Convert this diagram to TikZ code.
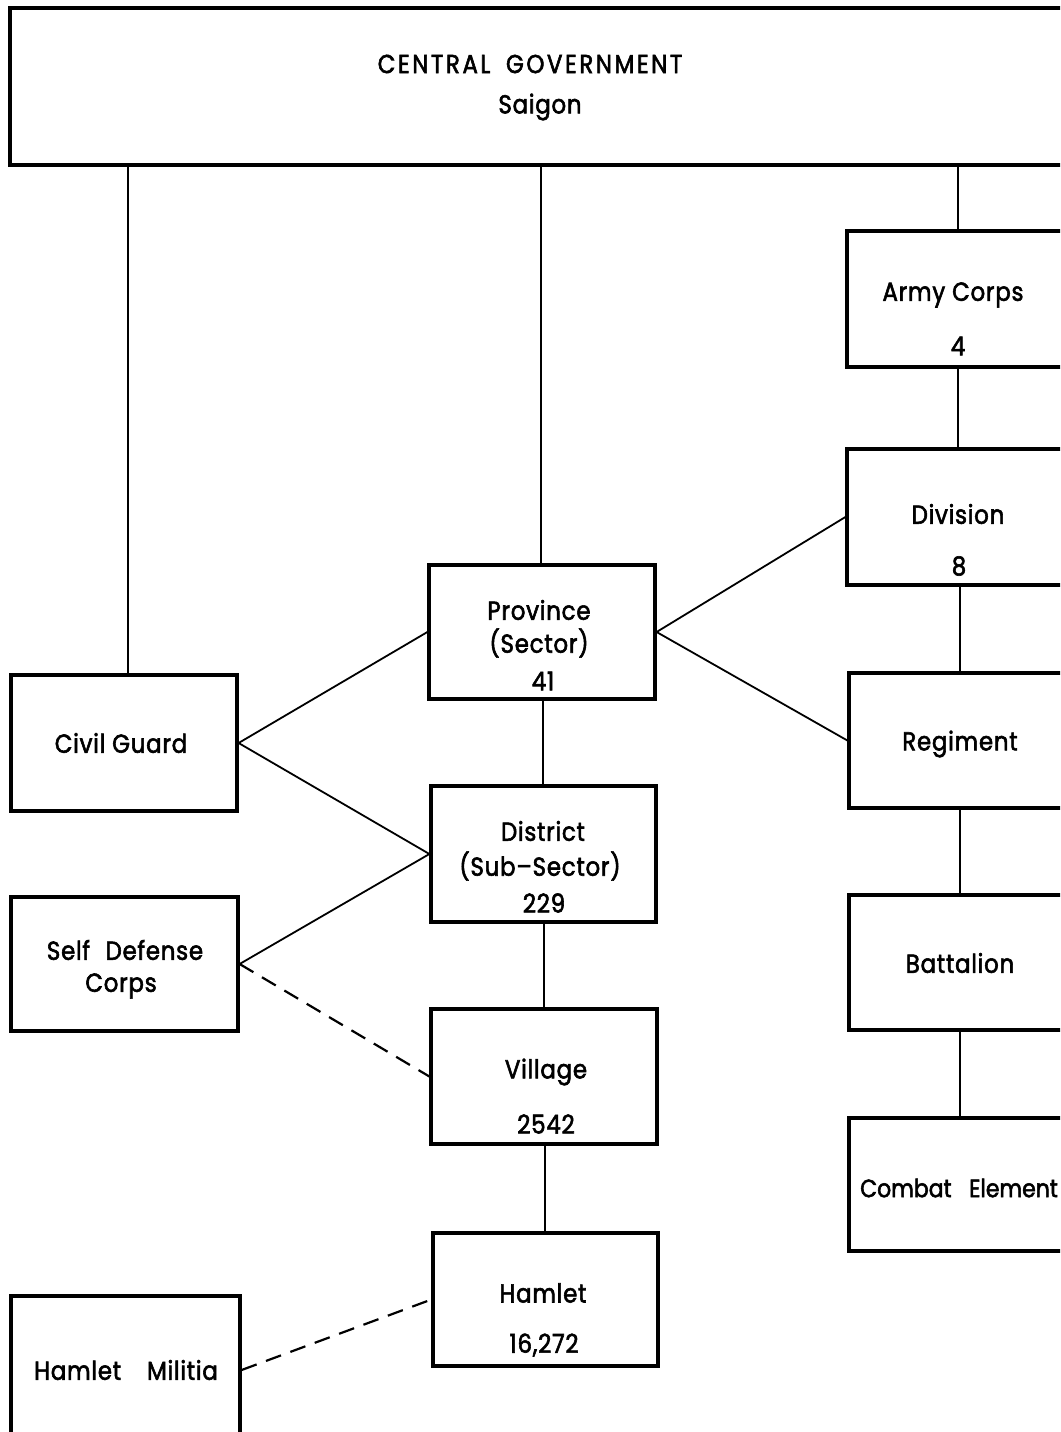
\documentclass[tikz,border=0pt]{standalone}
\usepackage{fontspec}
\setmainfont{Poppins}[LetterSpace=3, FakeBold=2.2, FakeStretch=0.88]
\begin{document}
\begin{tikzpicture}[x=1pt,y=-1pt,
  box/.style={draw, line width=3.2pt, rectangle, inner sep=0pt},
  link/.style={line width=1.8pt},
  dlink/.style={line width=2.2pt, dash pattern=on 16pt off 10pt},
  lbl/.style={inner sep=0pt, font=\fontsize{26}{30}\selectfont}]
\useasboundingbox (0,0) rectangle (1060,1432);
\clip (0,0) rectangle (1060,1432);
% boxes
\node[box, line width=4.5pt, minimum width=1080pt, minimum height=157pt] (cg) at (550,86.5) {};
\node[box, minimum width=228pt, minimum height=136pt] (army) at (961,299) {};
\node[box, minimum width=228pt, minimum height=136pt] (div) at (961,517) {};
\node[box, minimum width=226pt, minimum height=135pt] (reg) at (962,740.5) {};
\node[box, minimum width=226pt, minimum height=135pt] (bat) at (962,962.5) {};
\node[box, minimum width=226pt, minimum height=133pt] (comb) at (962,1184.5) {};
\node[box, minimum width=226pt, minimum height=134pt] (prov) at (542,632) {};
\node[box, minimum width=225pt, minimum height=136pt] (dist) at (543.5,854) {};
\node[box, minimum width=226pt, minimum height=135pt] (vill) at (544,1076.5) {};
\node[box, minimum width=225pt, minimum height=133pt] (ham) at (545.5,1299.5) {};
\node[box, minimum width=226pt, minimum height=136pt] (civ) at (124,743) {};
\node[box, minimum width=227pt, minimum height=134pt] (sdc) at (124.5,964) {};
\node[box, minimum width=229pt, minimum height=148pt] (mil) at (125.5,1370) {};
% labels
\node[lbl, font=\fontsize{26}{30}\selectfont\addfontfeature{LetterSpace=10}] (cgT1) at (530,64) {CENTRAL\hspace{0.6em}GOVERNMENT};
\node[lbl] (cgT2) at (540,107) {Saigon};
\node[lbl] (armyT1) at (953,295) {Army Corps};
\node[lbl] (armyT2) at (958,346) {4};
\node[lbl] (divT1) at (958,514) {Division};
\node[lbl] (divT2) at (959,566) {8};
\node[lbl] (regT) at (960,744) {Regiment};
\node[lbl] (batT) at (960,963) {Battalion};
\node[lbl, font=\fontsize{25}{29}\selectfont\addfontfeature{LetterSpace=0}] (combT) at (959,1188) {Combat\hspace{0.7em}Element};
\node[lbl] (provT1) at (539,610) {Province};
\node[lbl] (provT2) at (539,643) {(Sector)};
\node[lbl] (provT3) at (543,681) {41};
\node[lbl] (distT1) at (543,831) {District};
\node[lbl] (distT2) at (540,866) {(Sub--Sector)};
\node[lbl] (distT3) at (544,903) {229};
\node[lbl] (villT1) at (546,1072) {Village};
\node[lbl] (villT2) at (546,1124) {2542};
\node[lbl] (hamT1) at (543,1293) {Hamlet};
\node[lbl] (hamT2) at (544,1345) {16,272};
\node[lbl] (civT) at (121,743) {Civil Guard};
\node[lbl] (sdcT1) at (125,950) {Self\hspace{0.6em}Defense};
\node[lbl] (sdcT2) at (121,986) {Corps};
\node[lbl] (milT) at (126,1370) {Hamlet\hspace{1em}Militia};
% connectors
\draw[link] (cg.south -| 128,0) -- (civ.north -| 128,0);
\draw[link] (cg.south -| 541,0) -- (prov.north -| 541,0);
\draw[link] (cg.south -| 958,0) -- (army.north -| 958,0);
\draw[link] (army.south -| 958,0) -- (div.north -| 958,0);
\draw[link] (div.south -| 960,0) -- (reg.north -| 960,0);
\draw[link] (reg.south -| 960,0) -- (bat.north -| 960,0);
\draw[link] (bat.south -| 960,0) -- (comb.north -| 960,0);
\draw[link] (prov.south -| 543,0) -- (dist.north -| 543,0);
\draw[link] (dist.south -| 544,0) -- (vill.north -| 544,0);
\draw[link] (vill.south -| 545,0) -- (ham.north -| 545,0);
\draw[link] (prov.east) -- (div.west);
\draw[link] (prov.east) -- (reg.west);
\draw[link] (civ.east) -- (prov.west);
\draw[link] (civ.east) -- (dist.west);
\draw[link] (sdc.east) -- (dist.west);
\draw[dlink] (sdc.east) -- (vill.west);
\draw[dlink] (mil.east) -- (ham.west);
\end{tikzpicture}
\end{document}
